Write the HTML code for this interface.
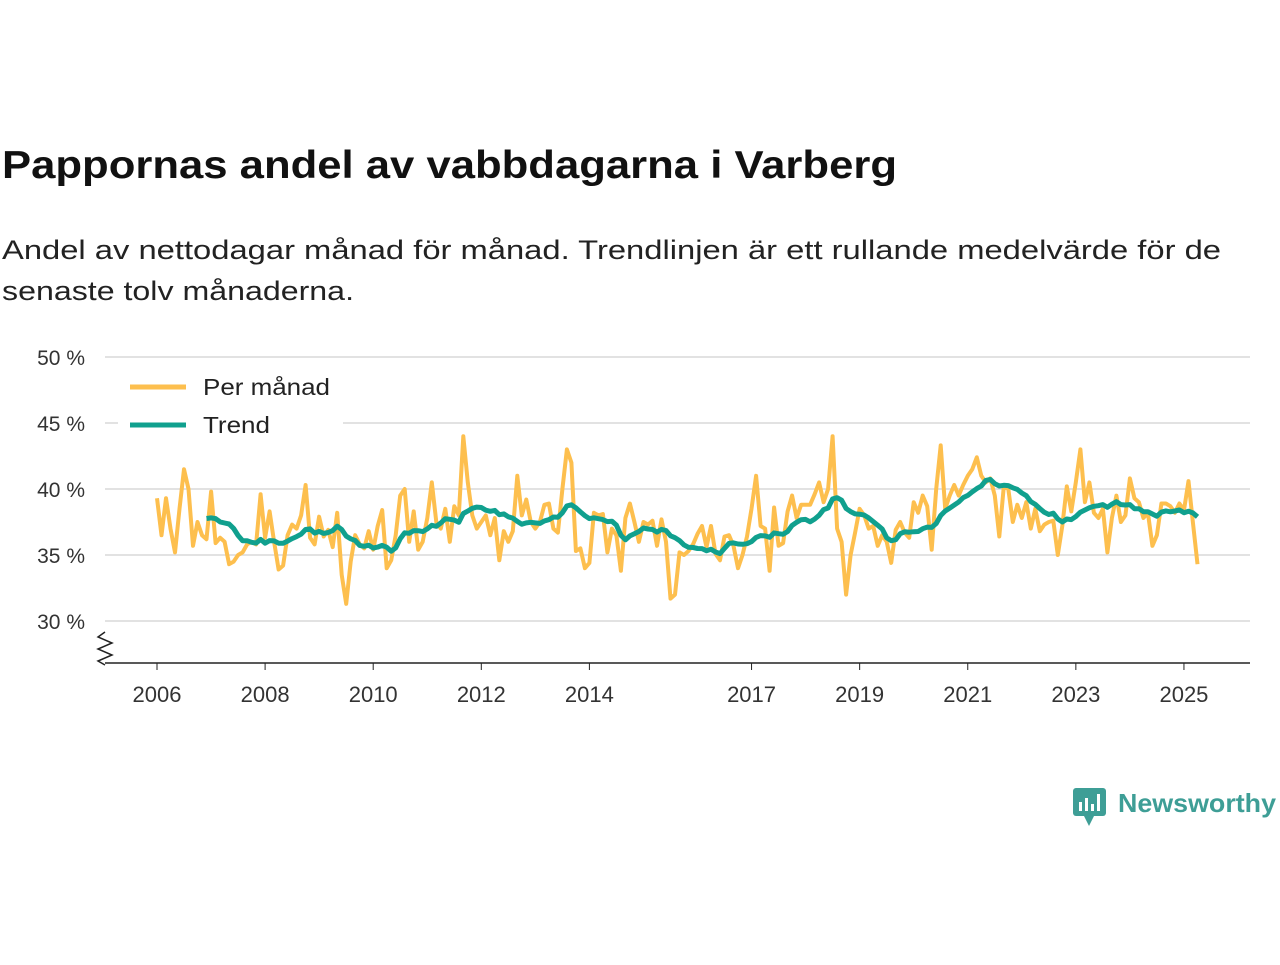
<!DOCTYPE html>
<html><head><meta charset="utf-8"><style>
body{margin:0;background:#fff;width:1280px;height:960px;overflow:hidden;font-family:"Liberation Sans","DejaVu Sans",sans-serif}
</style></head><body>
<svg width="1280" height="960">
<text x="2" y="178" font-size="39" font-weight="bold" fill="#111" textLength="895" lengthAdjust="spacingAndGlyphs">Pappornas andel av vabbdagarna i Varberg</text>
<text x="2" y="259" font-size="27" fill="#222" textLength="1219" lengthAdjust="spacingAndGlyphs">Andel av nettodagar månad för månad. Trendlinjen är ett rullande medelvärde för de</text>
<text x="2" y="300" font-size="27" fill="#222" textLength="352" lengthAdjust="spacingAndGlyphs">senaste tolv månaderna.</text>
<g id="grid"></g><g id="ylab"></g><g id="xlab"></g>
<line x1="105" y1="663" x2="1250" y2="663" stroke="#222" stroke-width="1.5"/>
<polyline points="105,632 98,637 112,643 98,649 112,655 98,661 105,665" fill="none" stroke="#222" stroke-width="1.5"/>
<path id="monthly" fill="none" stroke="#FDBF4E" stroke-width="4" stroke-linejoin="round"/>
<path id="trend" fill="none" stroke="#10A08E" stroke-width="5" stroke-linejoin="round"/>
<rect x="118" y="368" width="225" height="72" fill="#fff"/>
<line x1="130" y1="387" x2="186" y2="387" stroke="#FDBF4E" stroke-width="5"/>
<text x="203" y="395" font-size="23" fill="#222" textLength="127" lengthAdjust="spacingAndGlyphs">Per månad</text>
<line x1="130" y1="425" x2="186" y2="425" stroke="#10A08E" stroke-width="5"/>
<text x="203" y="433" font-size="23" fill="#222" textLength="67" lengthAdjust="spacingAndGlyphs">Trend</text>
<g>
<rect x="1073" y="788" width="33" height="28" rx="3" fill="#3E9E96"/>
<polygon points="1084,816 1094,816 1089,826" fill="#3E9E96"/>
<rect x="1079" y="802" width="3" height="9" fill="#fff"/><rect x="1085" y="798" width="3" height="13" fill="#fff"/><rect x="1091" y="804" width="3" height="7" fill="#fff"/><rect x="1097" y="794" width="3" height="17" fill="#fff"/>
<text x="1118" y="812" font-size="26" font-weight="bold" fill="#3E9E96" textLength="158" lengthAdjust="spacingAndGlyphs">Newsworthy</text>
</g>
</svg>
<script>
const yTicks=[30,35,40,45,50];
const xYears=[2006,2008,2010,2012,2014,2017,2019,2021,2023,2025];
const startYear=2006;
const monthly=[
39.3,36.5,39.3,37,35.2,38.5,41.5,40,35.7,37.5,36.5,36.2,
39.8,35.9,36.3,36.0,34.3,34.5,35.0,35.2,35.8,36.0,35.8,39.6,
36.3,38.3,36.0,33.9,34.2,36.5,37.3,37.0,38.0,40.3,36.3,35.8,
37.9,36.4,36.9,35.6,38.2,33.5,31.3,34.5,36.5,35.8,35.5,36.8,
35.4,37.2,38.4,34.0,34.6,36.5,39.5,40.0,36.0,38.3,35.4,36.0,
37.8,40.5,37.5,37.0,38.5,36.0,38.7,38.0,44.0,40.5,38.0,37.0,
37.5,38.0,36.5,37.8,34.6,36.8,36.0,36.8,41.0,38.0,39.2,37.5,
37.0,37.5,38.8,38.9,37.0,36.7,40.0,43.0,42.0,35.3,35.5,34.0,
34.4,38.2,38.0,38.1,35.2,37.0,36.5,33.8,37.8,38.9,37.5,36.0,
37.5,37.3,37.6,35.7,37.7,36.0,31.7,32.0,35.2,35.0,35.3,35.8,
36.6,37.2,35.6,37.2,35.1,34.6,36.4,36.5,35.7,34.0,35.0,36.4,
38.5,41.0,37.2,37.0,33.8,38.6,35.7,35.9,38.3,39.5,37.8,38.8,
38.8,38.8,39.6,40.5,39.0,40.0,44.0,37.0,36.0,32.0,35.0,36.7,
38.5,38.0,37.0,37.2,35.7,36.5,36.0,34.4,36.9,37.5,36.7,36.3,
39.0,38.2,39.5,38.7,35.4,40.0,43.3,38.5,39.5,40.3,39.5,40.3,
41.0,41.5,42.4,41.0,40.5,40.8,39.5,36.4,40.2,40.0,37.5,38.8,
37.8,39.0,37.0,38.5,36.8,37.3,37.5,37.6,35.0,37.2,40.2,38.3,
40.5,43.0,39.0,40.5,38.2,37.8,38.5,35.2,37.8,39.5,37.5,38.0,
40.8,39.3,39.0,37.8,38.2,35.7,36.5,38.9,38.9,38.7,38.2,38.9,
38.4,40.6,37.4,34.3];
const NS="http://www.w3.org/2000/svg";
const xs=t=>157+(t-startYear)*54.05;
const ys=v=>357+(50-v)*13.2;
const grid=document.getElementById('grid'),ylab=document.getElementById('ylab'),xlab=document.getElementById('xlab');
yTicks.forEach(v=>{
 const l=document.createElementNS(NS,'line');
 l.setAttribute('x1',105);l.setAttribute('x2',1250);l.setAttribute('y1',ys(v));l.setAttribute('y2',ys(v));
 l.setAttribute('stroke','#d8d8d8');l.setAttribute('stroke-width','1.5');
 
 
 grid.appendChild(l);
 const t=document.createElementNS(NS,'text');
 t.setAttribute('x',85);t.setAttribute('y',ys(v)+8);t.setAttribute('text-anchor','end');
 t.setAttribute('font-size','21');t.setAttribute('fill','#333');t.textContent=v+' %';
 
 
 ylab.appendChild(t);
});
xYears.forEach(y=>{
 const t=document.createElementNS(NS,'text');
 t.setAttribute('x',xs(y));t.setAttribute('y',702);t.setAttribute('text-anchor','middle');
 t.setAttribute('font-size','22');t.setAttribute('fill','#333');t.textContent=y;
 
 
 xlab.appendChild(t);
 const k=document.createElementNS(NS,'line');
 k.setAttribute('x1',xs(y));k.setAttribute('x2',xs(y));k.setAttribute('y1',663);k.setAttribute('y2',670);
 k.setAttribute('stroke','#222');
 
 
 xlab.appendChild(k);
});
let d='';
monthly.forEach((v,i)=>{d+=(i?'L':'M')+xs(startYear+i/12).toFixed(1)+','+ys(v).toFixed(1);});
document.getElementById('monthly').setAttribute('d',d);
let td='';
for(let i=11;i<monthly.length;i++){
 let s=0;for(let j=i-11;j<=i;j++)s+=monthly[j];
 td+=(i>11?'L':'M')+xs(startYear+i/12).toFixed(1)+','+ys(s/12).toFixed(1);
}
document.getElementById('trend').setAttribute('d',td);
</script>
</body></html>
